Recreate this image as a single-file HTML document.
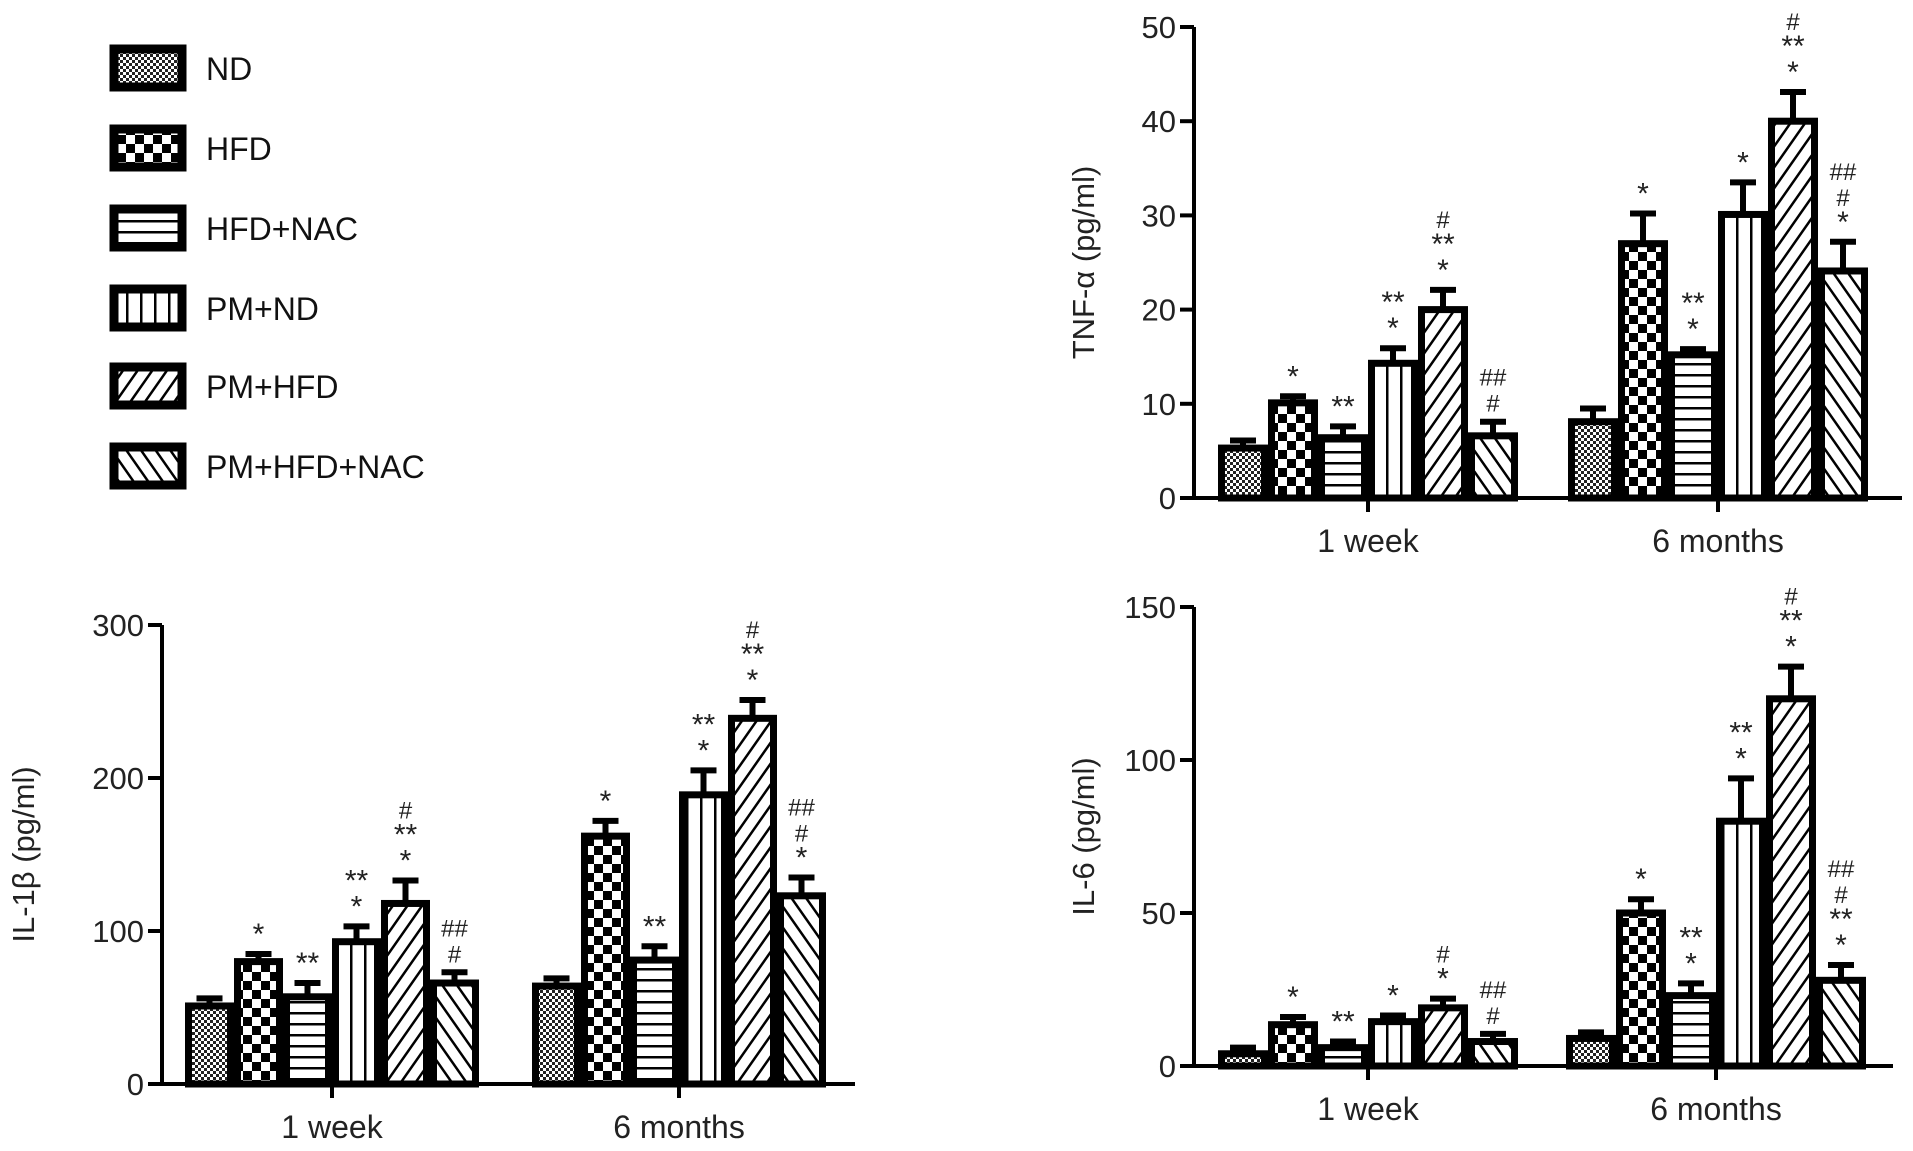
<!DOCTYPE html>
<html><head><meta charset="utf-8"><style>
body{margin:0;background:#fff;}
svg{display:block;font-family:"Liberation Sans",sans-serif;}
</style></head><body>
<svg id="fig" width="1913" height="1151" viewBox="0 0 1913 1151" xmlns="http://www.w3.org/2000/svg">
<defs>
<pattern id="p0" width="6" height="6" patternUnits="userSpaceOnUse"><rect width="6" height="6" fill="#fff"/><rect width="3" height="3" fill="#222"/><rect x="3" y="3" width="3" height="3" fill="#222"/></pattern>
<pattern id="p1" width="18" height="18" patternUnits="userSpaceOnUse"><rect width="18" height="18" fill="#fff"/><rect width="9" height="9" fill="#000"/><rect x="9" y="9" width="9" height="9" fill="#000"/></pattern>
<pattern id="p2" width="10" height="11" patternUnits="userSpaceOnUse"><rect width="10" height="11" fill="#fff"/><rect y="0" width="10" height="2.5" fill="#000"/></pattern>
<pattern id="p3" width="14" height="10" patternUnits="userSpaceOnUse"><rect width="14" height="10" fill="#fff"/><rect x="0" width="2.5" height="10" fill="#000"/></pattern>
<pattern id="p4" width="12" height="12" patternUnits="userSpaceOnUse" patternTransform="rotate(35)"><rect width="12" height="12" fill="#fff"/><rect width="2.5" height="12" fill="#000"/></pattern>
<pattern id="p5" width="12" height="12" patternUnits="userSpaceOnUse" patternTransform="rotate(-35)"><rect width="12" height="12" fill="#fff"/><rect width="2.5" height="12" fill="#000"/></pattern>
</defs>
<g id="legend"></g>
</svg>
<script>
const groups = ["ND","HFD","HFD+NAC","PM+ND","PM+HFD","PM+HFD+NAC"];
const timepoints = ["1 week","6 months"];
const tnfWeek = [5.3,10.1,6.4,14.3,20.0,6.6];
const tnfWeekErr = [0.8,0.7,1.2,1.6,2.1,1.5];
const tnfMonths = [8.1,27.0,15.2,30.1,40.0,24.1];
const tnfMonthsErr = [1.4,3.2,0.6,3.4,3.1,3.1];
const tnfTicks = [0,10,20,30,40,50];
const il1Week = [51,80,57,93,118,66];
const il1WeekErr = [5,5,9,10,15,7];
const il1Months = [64,162,81,189,239,123];
const il1MonthsErr = [5,10,9,16,12,12];
const il1Ticks = [0,100,200,300];
const il6Week = [4,13.5,6,14.5,19,8];
const il6WeekErr = [2,2.5,2,2,3,2.5];
const il6Months = [9,50,23,80,120,28];
const il6MonthsErr = [2,4.5,4,14,10.5,5];
const il6Ticks = [0,50,100,150];
const tnfNotes = [[[],["*"],["**"],["**","*"],["#","**","*"],["##","#"]],[[],["*"],["**","*"],["*"],["#","**","*"],["##","#","*"]]];
const il1Notes = [[[],["*"],["**"],["**","*"],["#","**","*"],["##","#"]],[[],["*"],["**"],["**","*"],["#","**","*"],["##","#","*"]]];
const il6Notes = [[[],["*"],["**"],["*"],["#","*"],["##","#"]],[[],["*"],["**","*"],["**","*"],["#","**","*"],["##","#","**","*"]]];

const NS="http://www.w3.org/2000/svg";
const svg=document.getElementById('fig');
function mk(tag,attrs,parent){const e=document.createElementNS(NS,tag);for(const k in attrs)e.setAttribute(k,attrs[k]);(parent||svg).appendChild(e);return e;}

const lg=document.getElementById('legend');
const legTops=[45,125,205,285,363,443];
groups.forEach((g,i)=>{
  const gi=mk('g',{},lg);
  
  
  mk('rect',{x:114,y:legTops[i]+4,width:68,height:38,fill:'url(#p'+i+')',stroke:'#000','stroke-width':9},gi);
  const t=mk('text',{x:206,y:legTops[i]+35,'font-size':32,fill:'#111'},gi);
  t.textContent=g;
});

function panel(o){
  const g=mk('g',{});
  
  
  const y=v=>o.y0-(v/o.max)*(o.y0-o.yTop);
  const sets=[[o.week,o.weekErr],[o.months,o.monthsErr]];
  sets.forEach((s,gi)=>{
    s[0].forEach((v,i)=>{
      const x=o.starts[gi]+i*o.pitch;
      const yt=y(v), ye=y(v+s[1][i]);
      const bar=mk('rect',{x:x+3.5,y:yt,width:o.pitch-7,height:o.y0-yt,fill:'url(#p'+i+')',stroke:'#000','stroke-width':7},g);
      
      
      const cx=x+o.pitch/2;
      const eb=mk('path',{d:`M${cx},${yt} V${ye} M${cx-13},${ye} H${cx+13}`,stroke:'#000','stroke-width':6,fill:'none'},g);
      
      
      const notes=o.notes[gi][i];
      notes.forEach((n,k)=>{
        const t=mk('text',{x:cx,y:ye-10-(notes.length-1-k)*26,'text-anchor':'middle','font-size':n[0]=='#'?24:30,fill:'#222'},g);
        
        
        t.textContent=n;
      });
    });
  });
  const ax=mk('path',{d:`M${o.ax},${o.yTop} V${o.y0} H${o.xEnd}`,stroke:'#000','stroke-width':4,fill:'none'},g);
  
  
  o.ticks.forEach(tv=>{
    mk('line',{x1:o.ax-14,x2:o.ax,y1:y(tv),y2:y(tv),stroke:'#000','stroke-width':4},g);
    const t=mk('text',{x:o.ax-18,y:y(tv)+11,'text-anchor':'end','font-size':31,fill:'#222'},g);
    
    
    t.textContent=tv;
  });
  timepoints.forEach((tp,gi)=>{
    const cx=o.starts[gi]+3*o.pitch;
    mk('line',{x1:cx,x2:cx,y1:o.y0,y2:o.y0+14,stroke:'#000','stroke-width':4},g);
    const t=mk('text',{x:cx,y:o.y0+54,'text-anchor':'middle','font-size':32,fill:'#222'},g);
    
    
    t.textContent=tp;
  });
  const yt=mk('text',{x:0,y:0,'text-anchor':'middle','font-size':31,fill:'#222',transform:`translate(${o.titleX},${(o.yTop+o.y0)/2}) rotate(-90)`},g);
  
  
  yt.textContent=o.title;
}
panel({name:'tnf-alpha-chart',title:'TNF-α (pg/ml)',ax:1194,yTop:27,y0:498,xEnd:1902,max:50,ticks:tnfTicks,starts:[1218,1568],pitch:50,week:tnfWeek,weekErr:tnfWeekErr,months:tnfMonths,monthsErr:tnfMonthsErr,notes:tnfNotes,titleX:1094});
panel({name:'il-1beta-chart',title:'IL-1β (pg/ml)',ax:162,yTop:625,y0:1084,xEnd:855,max:300,ticks:il1Ticks,starts:[185,532],pitch:49,week:il1Week,weekErr:il1WeekErr,months:il1Months,monthsErr:il1MonthsErr,notes:il1Notes,titleX:34});
panel({name:'il-6-chart',title:'IL-6 (pg/ml)',ax:1194,yTop:607,y0:1066,xEnd:1893,max:150,ticks:il6Ticks,starts:[1218,1566],pitch:50,week:il6Week,weekErr:il6WeekErr,months:il6Months,monthsErr:il6MonthsErr,notes:il6Notes,titleX:1094});
</script>
</body></html>
